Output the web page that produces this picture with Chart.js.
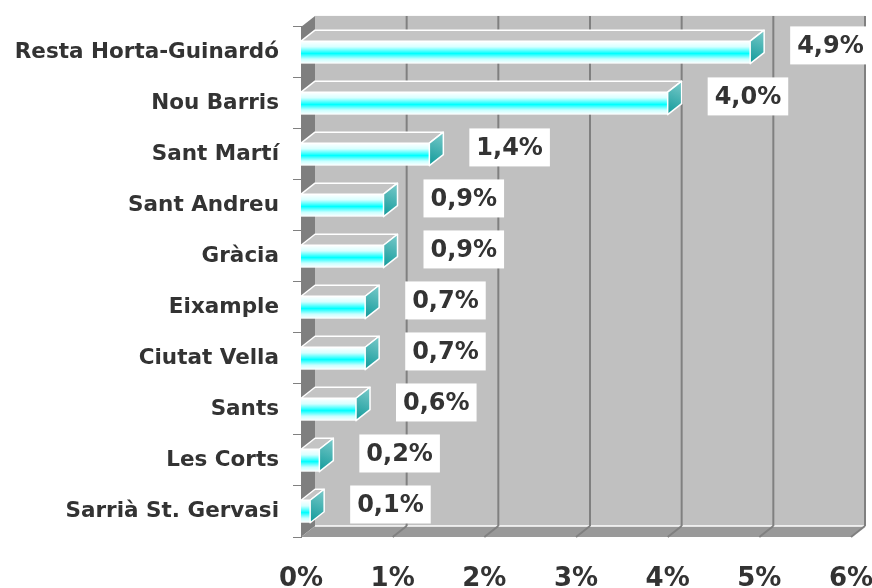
<!DOCTYPE html>
<html>
<head>
<meta charset="utf-8">
<script src="https://cdn.jsdelivr.net/npm/chart.js@4.4.0/dist/chart.umd.min.js"></script>
<style>
html, body { margin: 0; padding: 0; background: #fff; }
#wrap { width: 872px; height: 588px; }
</style>
</head>
<body>
<div id="wrap"><canvas id="districtes"></canvas></div>
<script>
var districtes = ["Resta Horta-Guinardó", "Nou Barris", "Sant Martí", "Sant Andreu", "Gràcia",
                  "Eixample", "Ciutat Vella", "Sants", "Les Corts", "Sarrià St. Gervasi"];
var percentatges = [4.9, 4.0, 1.4, 0.9, 0.9, 0.7, 0.7, 0.6, 0.2, 0.1];
var escalaMin = 0, escalaMax = 6, escalaPas = 1;

// 3d depth offset
var DX = 14, DY = -11;
var txtColor = '#333333';
var fontFam = '"DejaVu Sans", Verdana, sans-serif';

function fmt(v) {
    return v.toFixed(1).replace('.', ',') + '%';
}

var parets = {
    id: 'parets',
    beforeDraw: function (chart) {
        var ctx = chart.ctx, a = chart.chartArea, sx = chart.scales.x;
        ctx.save();
        // back wall
        ctx.fillStyle = '#c0c0c0';
        ctx.fillRect(a.left + DX, a.top + DY, a.right - a.left, a.bottom - a.top);
        // side wall
        ctx.fillStyle = '#7f7f7f';
        ctx.beginPath();
        ctx.moveTo(a.left, a.top);
        ctx.lineTo(a.left + DX, a.top + DY);
        ctx.lineTo(a.left + DX, a.bottom + DY);
        ctx.lineTo(a.left, a.bottom);
        ctx.closePath();
        ctx.fill();
        // floor
        ctx.fillStyle = '#999999';
        ctx.beginPath();
        ctx.moveTo(a.left, a.bottom);
        ctx.lineTo(a.left + DX, a.bottom + DY);
        ctx.lineTo(a.right + DX, a.bottom + DY);
        ctx.lineTo(a.right, a.bottom);
        ctx.closePath();
        ctx.fill();
        ctx.strokeStyle = '#ffffff';
        ctx.lineWidth = 1.5;
        ctx.beginPath();
        ctx.moveTo(a.left + DX, a.bottom + DY);
        ctx.lineTo(a.right + DX, a.bottom + DY);
        ctx.stroke();
        // grid lines on the back wall and floor
        ctx.strokeStyle = '#808080';
        ctx.lineWidth = 2;
        for (var v = escalaMin + escalaPas; v <= escalaMax; v += escalaPas) {
            var px = sx.getPixelForValue(v);
            ctx.beginPath();
            ctx.moveTo(px + DX, a.top + DY);
            ctx.lineTo(px + DX, a.bottom + DY);
            ctx.stroke();
            ctx.beginPath();
            ctx.moveTo(px + DX, a.bottom + DY);
            ctx.lineTo(px, a.bottom);
            ctx.stroke();
        }
        ctx.restore();
    },
    afterDatasetsDraw: function (chart) {
        var ctx = chart.ctx;
        var meta = chart.getDatasetMeta(0);
        ctx.save();
        meta.data.forEach(function (bar, i) {
            var p = bar.getProps(['x', 'y', 'base', 'height'], true);
            var top = p.y - p.height / 2, bot = p.y + p.height / 2;
            var x0 = p.base, x1 = p.x;

            // front face
            var g = ctx.createLinearGradient(0, top, 0, bot);
            g.addColorStop(0, '#ffffff');
            g.addColorStop(0.25, '#d8ffff');
            g.addColorStop(0.55, '#00ffff');
            g.addColorStop(0.8, '#c8ffff');
            g.addColorStop(1, '#ffffff');
            ctx.fillStyle = g;
            ctx.fillRect(x0, top, x1 - x0, bot - top);

            ctx.strokeStyle = '#ffffff';
            ctx.lineWidth = 1.5;
            ctx.lineJoin = 'round';

            // top face
            ctx.fillStyle = '#c4c4c4';
            ctx.beginPath();
            ctx.moveTo(x0, top);
            ctx.lineTo(x0 + DX, top + DY);
            ctx.lineTo(x1 + DX, top + DY);
            ctx.lineTo(x1, top);
            ctx.closePath();
            ctx.fill();
            ctx.stroke();

            // end face
            var ge = ctx.createLinearGradient(x1, bot, x1 + DX, top + DY);
            ge.addColorStop(0, '#0f9a9a');
            ge.addColorStop(1, '#7ccaca');
            ctx.fillStyle = ge;
            ctx.beginPath();
            ctx.moveTo(x1, top);
            ctx.lineTo(x1 + DX, top + DY);
            ctx.lineTo(x1 + DX, bot + DY);
            ctx.lineTo(x1, bot);
            ctx.closePath();
            ctx.fill();
            ctx.stroke();

            // value label
            var txt = fmt(percentatges[i]);
            ctx.font = 'bold 24px ' + fontFam;
            var tw = ctx.measureText(txt).width;
            var bw = tw + 14, bh = 38;
            var bx = x1 + 40, by = p.y - 7 - bh / 2;
            ctx.fillStyle = '#ffffff';
            ctx.fillRect(bx, by, bw, bh);
            ctx.fillStyle = txtColor;
            ctx.textAlign = 'center';
            ctx.textBaseline = 'middle';
            ctx.fillText(txt, bx + bw / 2, by + bh / 2 + 1);
        });
        ctx.restore();
    }
};

var ctx = document.getElementById('districtes').getContext('2d');
var grafic = new Chart(ctx, {
    type: 'bar',
    data: {
        labels: districtes,
        datasets: [{
            data: percentatges,
            backgroundColor: 'rgba(0,0,0,0)',
            borderWidth: 0,
            barPercentage: 0.44,
            categoryPercentage: 1.0
        }]
    },
    options: {
        indexAxis: 'y',
        responsive: true,
        maintainAspectRatio: false,
        animation: false,
        layout: { padding: { left: 8, right: 21, top: 22, bottom: 0 } },
        plugins: {
            legend: { display: false },
            tooltip: { enabled: false }
        },
        scales: {
            x: {
                min: escalaMin,
                max: escalaMax,
                grid: { display: false },
                border: { display: false },
                ticks: {
                    stepSize: escalaPas,
                    color: txtColor,
                    padding: 19,
                    font: { family: fontFam, size: 26, weight: 'bold' },
                    callback: function (v) { return v + '%'; }
                },
                afterFit: function (s) {
                    s.height = 51;
                    s.paddingLeft = 0;
                    s.paddingRight = 0;
                }
            },
            y: {
                grid: { drawOnChartArea: false, drawTicks: true, tickLength: 8, color: '#808080' },
                border: { color: '#808080' },
                ticks: {
                    color: txtColor,
                    padding: 14,
                    font: { family: fontFam, size: 21.5, weight: 'bold' }
                },
                afterFit: function (s) { s.width = 293; }
            }
        }
    },
    plugins: [parets]
});
</script>
</body>
</html>
